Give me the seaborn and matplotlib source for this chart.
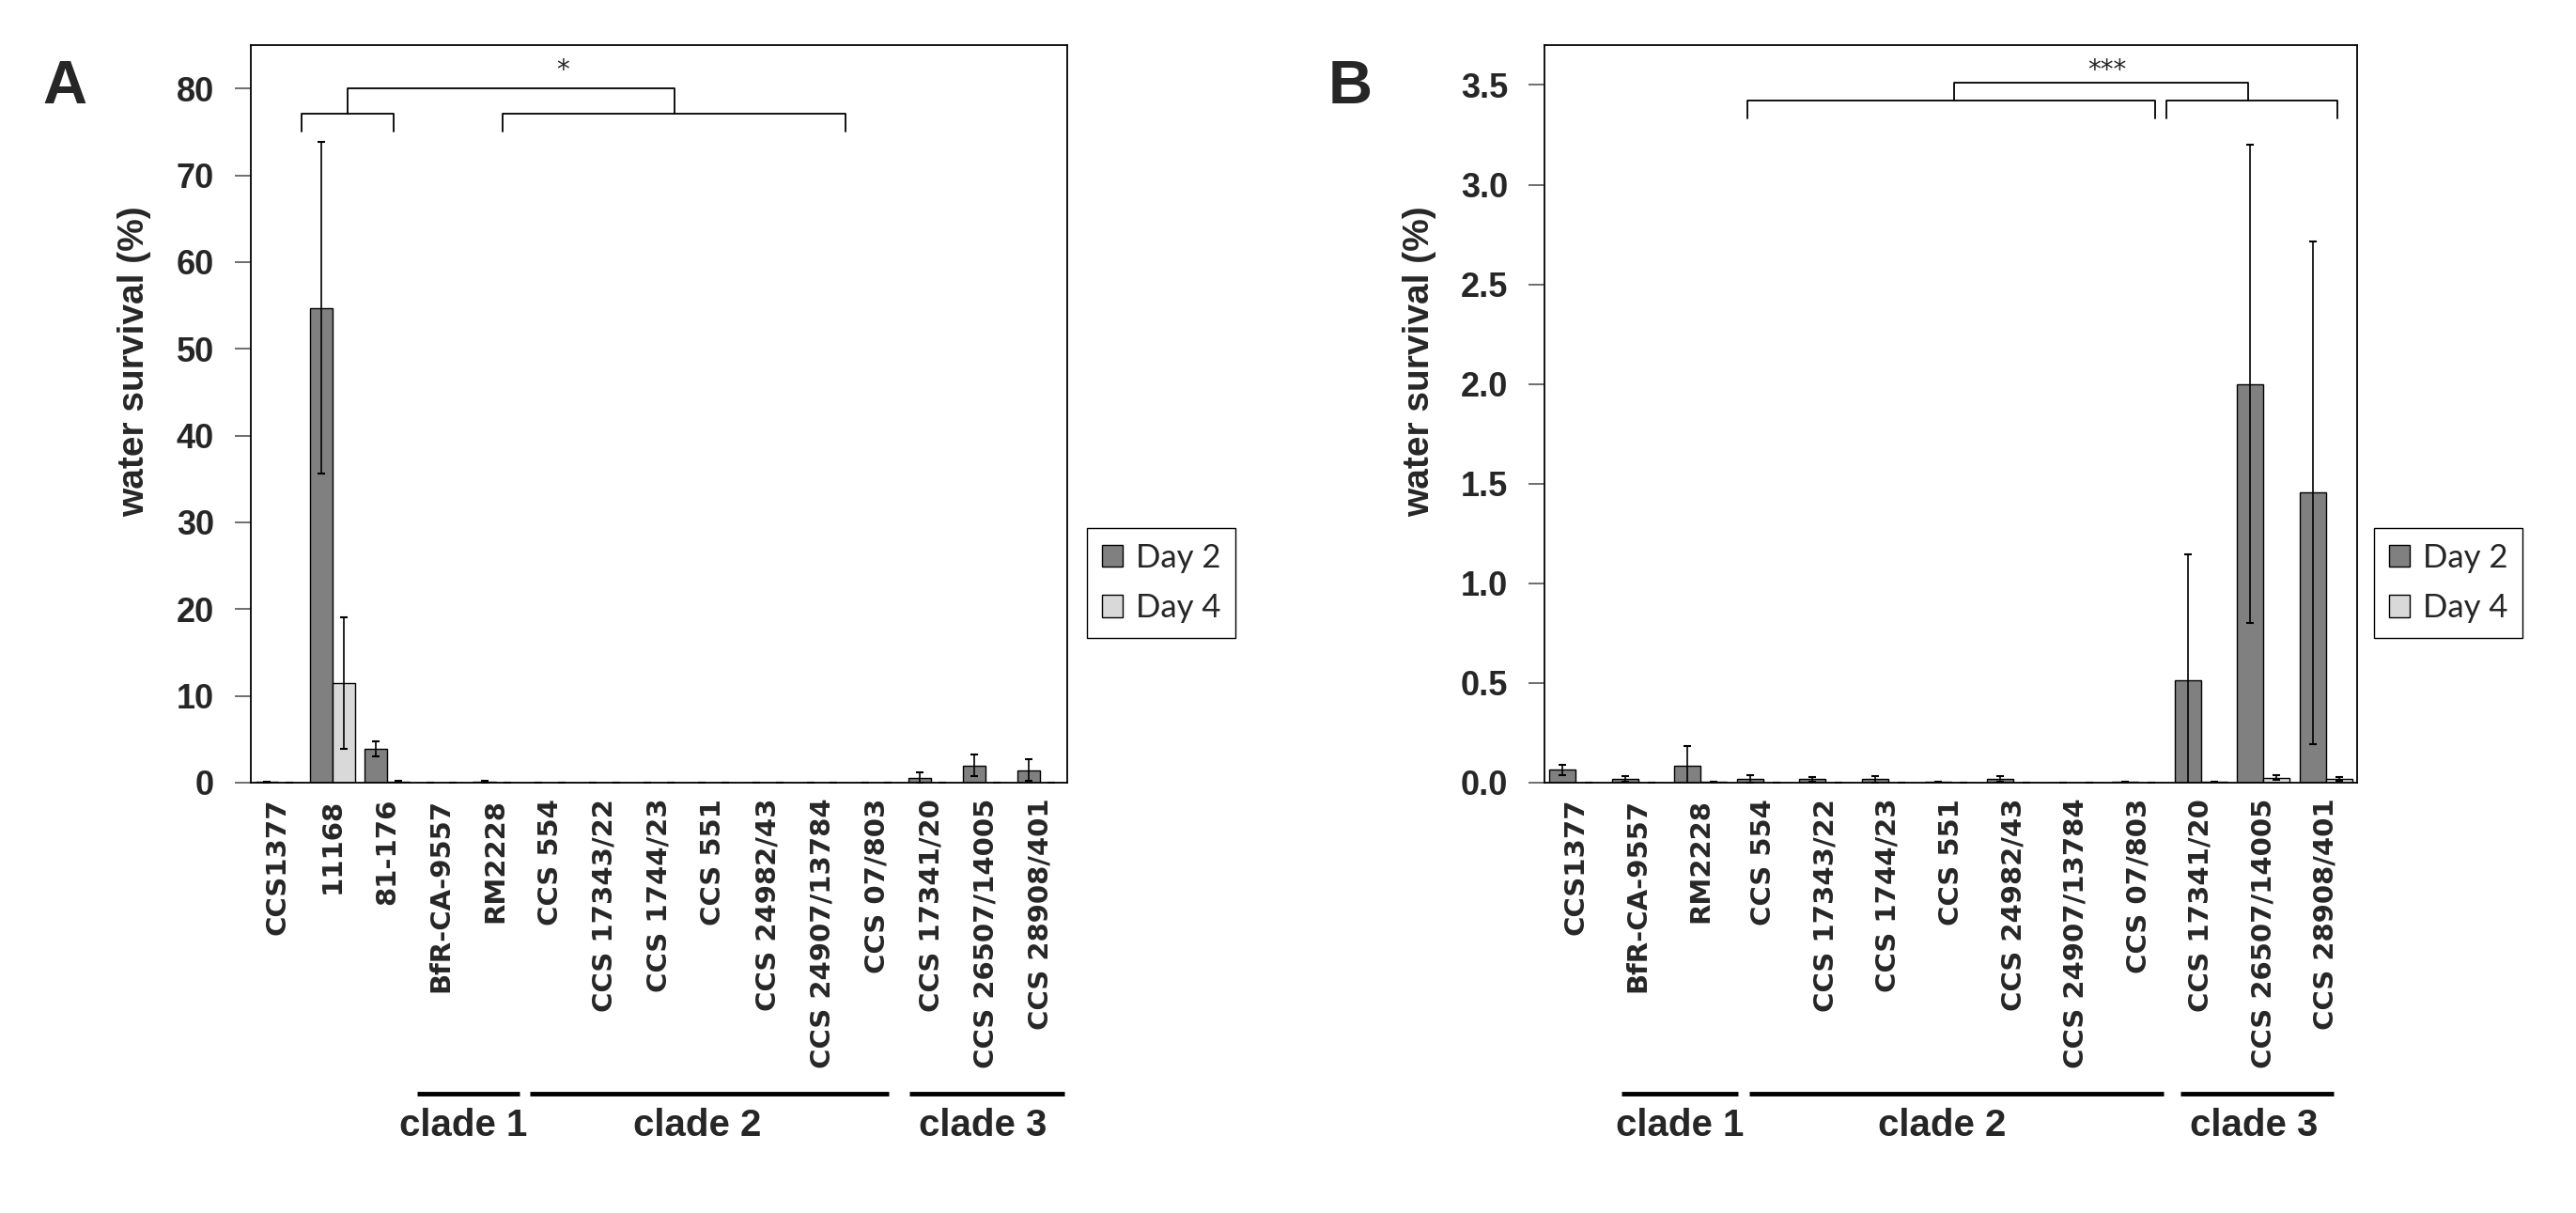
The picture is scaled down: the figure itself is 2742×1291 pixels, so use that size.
import numpy as np
import pandas as pd
import seaborn as sns
from matplotlib import pyplot as plt

# panel A
strains_a = ['CCS1377', '11168', '81-176', 'BfR-CA-9557', 'RM2228', 'CCS 554',
             'CCS 17343/22', 'CCS 1744/23', 'CCS 551', 'CCS 24982/43',
             'CCS 24907/13784', 'CCS 07/803', 'CCS 17341/20', 'CCS 26507/14005',
             'CCS 28908/401']
day2_a = [0.065, 54.7, 3.9, 0.02, 0.083, 0.019, 0.018, 0.017, 0.003, 0.02, 0.002, 0.003, 0.513, 2.0, 1.455]
day2_a_err = [0.025, 19.1, 0.9, 0.014, 0.1, 0.02, 0.012, 0.018, 0.0, 0.015, 0.0, 0.0, 0.63, 1.2, 1.26]
day4_a = [0.002, 11.5, 0.15, 0.001, 0.004, 0.002, 0.002, 0.001, 0.001, 0.002, 0.001, 0.001, 0.003, 0.024, 0.018]
day4_a_err = [0.0, 7.6, 0.05, 0.0, 0.0, 0.0, 0.0, 0.0, 0.0, 0.0, 0.0, 0.0, 0.0, 0.012, 0.01]

# panel B
strains_b = ['CCS1377', 'BfR-CA-9557', 'RM2228', 'CCS 554', 'CCS 17343/22',
             'CCS 1744/23', 'CCS 551', 'CCS 24982/43', 'CCS 24907/13784',
             'CCS 07/803', 'CCS 17341/20', 'CCS 26507/14005', 'CCS 28908/401']
day2_b = [0.065, 0.02, 0.083, 0.019, 0.018, 0.017, 0.003, 0.02, 0.002, 0.003, 0.513, 2.0, 1.455]
day2_b_err = [0.025, 0.014, 0.1, 0.02, 0.012, 0.018, 0.0, 0.015, 0.0, 0.0, 0.63, 1.2, 1.26]
day4_b = [0.002, 0.001, 0.004, 0.002, 0.002, 0.001, 0.001, 0.002, 0.001, 0.001, 0.003, 0.024, 0.018]
day4_b_err = [0.0, 0.0, 0.0, 0.0, 0.0, 0.0, 0.0, 0.0, 0.0, 0.0, 0.0, 0.012, 0.01]

days = ['Day 2', 'Day 4']
colors = ['#808080', '#d9d9d9']

BOLD_FAM = ['Liberation Sans', 'DejaVu Sans']

sns.set_style('ticks')
fig = plt.figure(figsize=(27.42, 12.91), dpi=100)
W, H = 2742, 1291


def make_df(strains, d2, d4):
    return pd.DataFrame({'strain': strains * 2,
                         'value': d2 + d4,
                         'day': ['Day 2'] * len(strains) + ['Day 4'] * len(strains)})


def panel(rect, strains, d2, d2e, d4, d4e, ymax, yticks, yfmt, legx):
    ax = fig.add_axes(rect)
    df = make_df(strains, d2, d4)
    sns.barplot(data=df, x='strain', y='value', hue='day', order=strains, hue_order=days,
                palette=colors, edgecolor='black', linewidth=1.0, errorbar=None,
                width=0.84, saturation=1, ax=ax)
    for cont, err in zip(ax.containers, [d2e, d4e]):
        xs = [b.get_x() + b.get_width() / 2 for b in cont]
        hs = [b.get_height() for b in cont]
        ax.errorbar(xs, hs, yerr=err, fmt='none', ecolor='black', elinewidth=1.2,
                    capsize=3, capthick=1.5, zorder=5)
    ax.set_xlim(-0.5, len(strains) - 0.5)
    ax.set_ylim(0, ymax)
    ax.set_yticks(yticks)
    ax.set_yticklabels([yfmt.format(v) for v in yticks], fontsize=26, fontweight='bold',
                       family=BOLD_FAM)
    ax.set_xticks(range(len(strains)))
    ax.set_xticklabels(strains, rotation=90, fontsize=21, fontweight='bold',
                       family='DejaVu Sans')
    ax.tick_params(axis='x', length=0, pad=12)
    ax.tick_params(axis='y', length=12, width=1.2, color='#555555', pad=16)
    for s in ax.spines.values():
        s.set_visible(True)
        s.set_linewidth(1.3)
        s.set_color('black')
    ax.set_xlabel('')
    ax.set_ylabel('')
    handles, labels = ax.get_legend_handles_labels()
    if ax.get_legend() is not None:
        ax.get_legend().remove()
    fig.legend(handles, labels, loc='upper left', bbox_to_anchor=(legx, 1 - 562 / H),
               frameon=True, fancybox=False, edgecolor='black', framealpha=1,
               prop={'family': ['Lato', 'DejaVu Sans'], 'size': 25},
               handlelength=0.65, handleheight=0.65,
               handletextpad=0.4, labelspacing=0.62, borderpad=0.45, borderaxespad=0)
    return ax


def bracket(ax, x0, x1, y_top, y_bot, lw=1.3):
    tr = ax.get_xaxis_transform()
    ax.plot([x0, x0, x1, x1], [y_bot, y_top, y_top, y_bot], color='black', lw=lw,
            transform=tr, clip_on=False, solid_joinstyle='round')


def clades(ax, spans, centers):
    tr = ax.get_xaxis_transform()
    for (a, b), (c, name) in zip(spans, centers):
        ax.plot([a, b], [-0.4217, -0.4217], color='black', lw=3.5, transform=tr,
                clip_on=False, solid_capstyle='butt')
        ax.text(c, -0.465, name, transform=tr, ha='center', va='center', fontsize=29,
                fontweight='bold', family=BOLD_FAM)


# panel A axes
ax_a = panel([267 / W, 1 - 833 / H, 869 / W, 785 / H], strains_a, day2_a, day2_a_err,
             day4_a, day4_a_err, 85, list(range(0, 81, 10)), '{:.0f}', 1157 / W)
bracket(ax_a, 0.43, 2.12, 0.9074, 0.8828)
bracket(ax_a, 4.13, 10.43, 0.9074, 0.8828)
bracket(ax_a, 1.275, 7.28, 0.941, 0.9074)
ax_a.text(5.23, 0.965, '*', transform=ax_a.get_xaxis_transform(), ha='center', va='center',
          fontsize=20, family='DejaVu Sans')
clades(ax_a, [(2.56, 4.44), (4.63, 11.22), (11.6, 14.45)],
       [(3.4, 'clade 1'), (7.7, 'clade 2'), (12.95, 'clade 3')])

# panel B axes
ax_b = panel([1644 / W, 1 - 833 / H, 865 / W, 785 / H], strains_b, day2_b, day2_b_err,
             day4_b, day4_b_err, 3.7, list(np.arange(0, 3.51, 0.5)), '{:.1f}', 2527 / W)
bracket(ax_b, 2.75, 9.27, 0.925, 0.9006)
bracket(ax_b, 9.45, 12.18, 0.925, 0.9006)
bracket(ax_b, 6.05, 10.75, 0.9487, 0.925)
ax_b.text(8.5, 0.965, '***', transform=ax_b.get_xaxis_transform(), ha='center', va='center',
          fontsize=20, family='DejaVu Sans')
clades(ax_b, [(0.73, 2.6), (2.78, 9.41), (9.67, 12.13)],
       [(1.67, 'clade 1'), (5.86, 'clade 2'), (10.85, 'clade 3')])

# y labels and panel letters
for x in [143, 1511]:
    fig.text(x / W, 1 - 385 / H, 'water survival (%)', rotation=90, ha='center', va='center',
             fontsize=28, fontweight='bold', family=BOLD_FAM)
fig.text(69 / W, 1 - 93 / H, 'A', ha='center', va='center', fontsize=47, fontweight='bold',
         family='Liberation Sans')
fig.text(1437 / W, 1 - 93 / H, 'B', ha='center', va='center', fontsize=47, fontweight='bold',
         family='Liberation Sans')

fig.savefig('out.png', dpi=100)
